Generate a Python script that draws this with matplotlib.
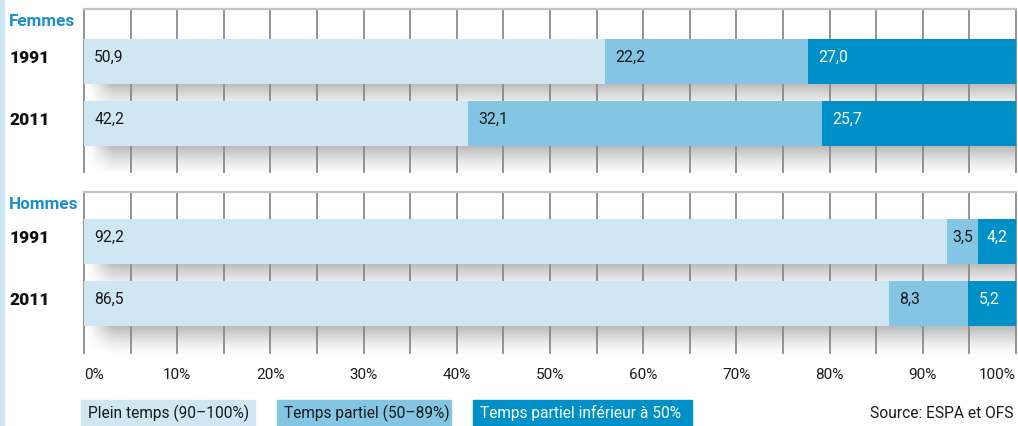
import matplotlib
matplotlib.use("Agg")
import matplotlib.pyplot as plt
import numpy as np
from matplotlib.patches import Rectangle

# ---------------- data ----------------
groups = ["Femmes", "Hommes"]
years = ["1991", "2011"]
series = ["Plein temps (90–100%)", "Temps partiel (50–89%)", "Temps partiel inférieur à 50%"]

# values printed on the bars
femmes_values = [[50.9, 22.2, 27.0], [42.2, 32.1, 25.7]]
hommes_values = [[92.2, 3.5, 4.2], [86.5, 8.3, 5.2]]
# segment lengths as drawn in the reference (%)
femmes_drawn = [[55.9, 21.8, 22.3], [41.2, 38.0, 20.8]]
hommes_drawn = [[92.6, 3.3, 4.1], [86.4, 8.5, 5.1]]

tick_values = list(range(0, 101, 10))
tick_labels = [f"{v}%" for v in tick_values]
source_text = "Source: ESPA et OFS"

# ---------------- style ----------------
colors = ["#cfe6f3", "#84c5e4", "#0090c8"]
text_colors = ["#1a1a1a", "#1a1a1a", "#ffffff"]
heading_color = "#1b8fcb"
grid_color = "#8a8a8a"
FONT = "Roboto"

W, H = 1018, 426
fig = plt.figure(figsize=(W / 100, H / 100), dpi=100)
fig.patch.set_facecolor("white")


def fx(px):
    return px / W


def fy(py):
    return 1 - py / H


# left light-blue strip
fig.patches.append(Rectangle((0, 0), fx(4), 1, transform=fig.transFigure,
                             color="#cfe6f3", zorder=0))

bar_h = 0.726
panels = [
    (femmes_values, femmes_drawn, (9, 172), (1.782, -0.847)),
    (hommes_values, hommes_drawn, (192, 353), (1.798, -0.798)),
]

for gi, (vals, drawn, (ptop, pbot), ylim) in enumerate(panels):
    ax = fig.add_axes([fx(84), fy(pbot), fx(1016) - fx(84), (pbot - ptop) / H])
    ax.set_facecolor("white")

    # drop shadows below bars
    ny, nx = 60, 200
    t = np.linspace(0, 1, ny)[:, None]
    xs = np.linspace(0, 100, nx)[None, :]
    alpha = 0.42 * (1 - t) ** 1.5 * np.clip((xs - 0.3) / 2.5, 0, 1)
    rgba = np.zeros((ny, nx, 4))
    rgba[..., :3] = 0.35
    rgba[..., 3] = alpha
    for yi in range(len(years)):
        yb = yi + bar_h / 2
        ax.imshow(rgba, extent=[0, 100, yb + 0.5, yb], aspect="auto",
                  interpolation="bilinear", zorder=0.5)

    # grid
    for v in range(0, 101, 5):
        ax.axvline(v, color=grid_color, lw=1.3, zorder=1, clip_on=False)

    # bars
    for yi in range(len(years)):
        left = 0.0
        for si in range(len(series)):
            w = drawn[yi][si]
            ax.barh(yi, w, left=left, height=bar_h, color=colors[si],
                    edgecolor="none", zorder=2)
            label = f"{vals[yi][si]:.1f}".replace(".", ",")
            if w < 5:
                ax.text(left + w / 2, yi - 0.06, label, ha="center", va="center",
                        fontsize=11.3, color=text_colors[si], family=FONT, zorder=3)
            else:
                ax.text(left + 1.1, yi - 0.06, label, ha="left", va="center",
                        fontsize=11.3, color=text_colors[si], family=FONT, zorder=3)
            left += w

    ax.set_xlim(0, 100)
    ax.set_ylim(*ylim)
    for s in ["left", "right", "bottom"]:
        ax.spines[s].set_visible(False)
    ax.spines["top"].set_color("#c4c4c4")
    ax.spines["top"].set_linewidth(1.6)
    ax.set_yticks([])
    ax.tick_params(axis="x", length=0)
    if gi == 0:
        ax.set_xticks([])
    else:
        ax.set_xticks(tick_values)
        ax.set_xticklabels(tick_labels, fontsize=11, family=FONT, color="#1a1a1a")
        ax.tick_params(axis="x", pad=11)
        tl = ax.get_xticklabels()
        tl[0].set_ha("left")
        tl[-1].set_ha("right")

    # group heading and year labels
    head_y = 22 if gi == 0 else 205
    fig.text(fx(9), fy(head_y), groups[gi], ha="left", va="center",
             fontsize=12.3, fontweight="bold", color=heading_color, family=FONT)
    for yi, yr in enumerate(years):
        ax.text(-7.95, yi - 0.06, yr, ha="left", va="center", fontsize=12.5,
                fontweight="heavy", color="#111111", family=FONT, clip_on=False)

# legend boxes
legend_boxes = [(81, 255), (277, 451), (473, 692)]
for si, (x0, x1) in enumerate(legend_boxes):
    fig.patches.append(Rectangle((fx(x0), 0), fx(x1) - fx(x0), fy(400),
                                 transform=fig.transFigure, color=colors[si], zorder=1))
    fig.text(fx(x0 + 7), fy(413), series[si], ha="left", va="center",
             fontsize=11.2, color=text_colors[si], family=FONT, zorder=2)

fig.text(fx(1013), fy(413), source_text, ha="right", va="center",
         fontsize=11.2, color="#1a1a1a", family=FONT)

fig.savefig("out.png", dpi=100)
